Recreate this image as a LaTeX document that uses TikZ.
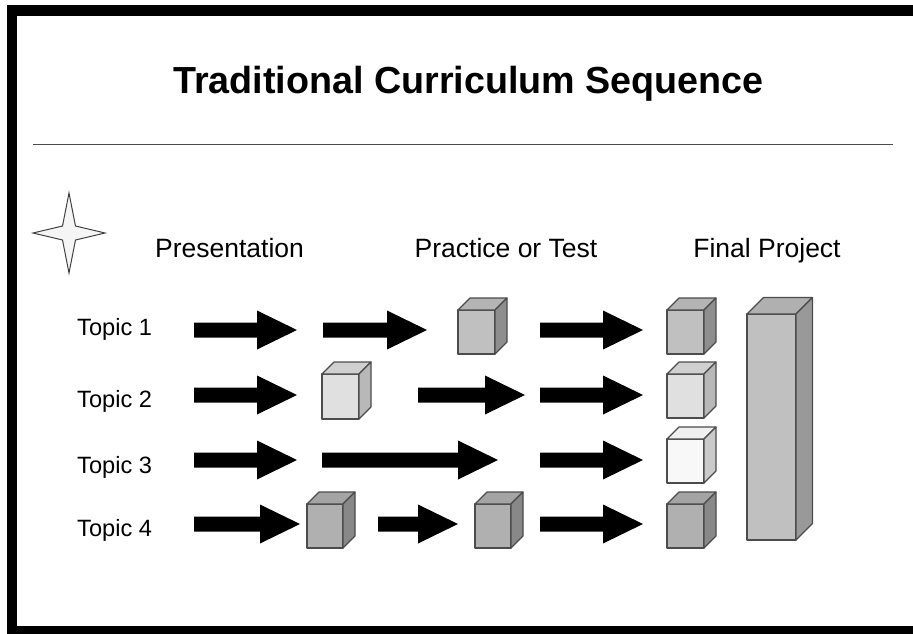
\documentclass[tikz,border=0pt]{standalone}
\usepackage{fontspec}
\setmainfont{Liberation Sans}
\begin{document}
\begin{tikzpicture}[x=1pt,y=-1pt,
  titletext/.style={font=\bfseries\fontsize{37.7}{42}\selectfont, anchor=base, inner sep=0pt},
  headtext/.style={font=\fontsize{26.5}{30}\selectfont, anchor=base, inner sep=0pt},
  topictext/.style={font=\fontsize{23.6}{27}\selectfont, anchor=base west, inner sep=0pt},
  edgeline/.style={draw=black!70, line width=1.1pt, line join=round},
]
\useasboundingbox (0,0) rectangle (913,634);
% frame
\fill[black] (7,5) rectangle (913,16);
\fill[black] (7,5) rectangle (17,634);
\fill[black] (7,626) rectangle (913,634);
% title and rule
\node[titletext] (title) at (468.5,93) {Traditional Curriculum Sequence};
\draw[black!70, line width=1pt] (33,144) -- (893,144);
% star
\draw[draw=black!75, fill=black!4, line width=1pt, line join=miter]
  (69,193) -- (75.5,226) -- (105,233) -- (75.5,240) -- (69,273) -- (62.5,240) -- (33,233) -- (62.5,226) -- cycle;
% headers
\node[headtext] (pres) at (229.5,257) {Presentation};
\node[headtext] (prac) at (506,257) {Practice or Test};
\node[headtext] (fin) at (767,257) {Final Project};
% topics
\node[topictext] (t1) at (77,335) {Topic 1};
\node[topictext] (t2) at (77,407) {Topic 2};
\node[topictext] (t3) at (77,473) {Topic 3};
\node[topictext] (t4) at (77,536) {Topic 4};
% block arrows
\newcommand{\blockarr}[3]{\fill[black] (#1,#3-7.5) -- (#2-40,#3-7.5) -- (#2-40,#3-19.5) -- (#2,#3) -- (#2-40,#3+19.5) -- (#2-40,#3+7.5) -- (#1,#3+7.5) -- cycle;}
\blockarr{194}{297}{330}
\blockarr{323}{427}{330}
\blockarr{540}{643}{330}
\blockarr{194}{297}{395}
\blockarr{418}{525}{395}
\blockarr{540}{643}{395}
\blockarr{194}{297}{460}
\blockarr{322}{498}{460}
\blockarr{540}{643}{460}
\blockarr{194}{300}{524}
\blockarr{378}{458}{524}
\blockarr{540}{643}{524}
% cubes: x, ytop, w, h, d, front, top, side
\newcommand{\cubebox}[8]{%
  \filldraw[edgeline, fill=#6] (#1,#2) rectangle (#1+#3,#2+#4);
  \filldraw[edgeline, fill=#7] (#1,#2) -- (#1+#5,#2-#5) -- (#1+#3+#5,#2-#5) -- (#1+#3,#2) -- cycle;
  \filldraw[edgeline, fill=#8] (#1+#3,#2) -- (#1+#3+#5,#2-#5) -- (#1+#3+#5,#2+#4-#5) -- (#1+#3,#2+#4) -- cycle;}
\definecolor{fa}{HTML}{C0C0C0}\definecolor{ta}{HTML}{B4B4B4}\definecolor{sa}{HTML}{8E8E8E}
\definecolor{fb}{HTML}{E0E0E0}\definecolor{tb}{HTML}{D0D0D0}\definecolor{sb}{HTML}{B8B8B8}
\definecolor{fc}{HTML}{F8F8F8}\definecolor{tc}{HTML}{F0F0F0}\definecolor{sc}{HTML}{CACACA}
\definecolor{fd}{HTML}{B0B0B0}\definecolor{td}{HTML}{A4A4A4}\definecolor{sd}{HTML}{888888}
\definecolor{fe}{HTML}{C0C0C0}\definecolor{te}{HTML}{B0B0B0}\definecolor{se}{HTML}{999999}
\cubebox{458}{310}{37}{44}{12}{fa}{ta}{sa}
\cubebox{667}{310}{37}{44}{12}{fa}{ta}{sa}
\cubebox{322}{374}{37}{45}{12}{fb}{tb}{sb}
\cubebox{667}{374}{37}{44}{12}{fb}{tb}{sb}
\cubebox{667}{439}{37}{44}{12}{fc}{tc}{sc}
\cubebox{307}{504}{36}{44}{12}{fd}{td}{sd}
\cubebox{475}{504}{36}{44}{12}{fd}{td}{sd}
\cubebox{667}{504}{37}{44}{12}{fd}{td}{sd}
\cubebox{747}{314}{49}{226}{16.5}{fe}{te}{se}
\end{tikzpicture}
\end{document}
